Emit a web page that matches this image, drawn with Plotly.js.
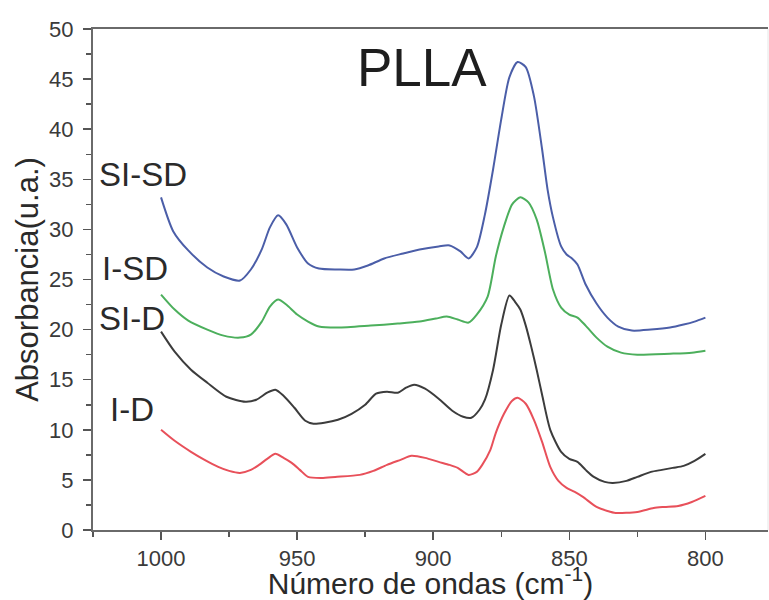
<!DOCTYPE html>
<html>
<head>
<meta charset="utf-8">
<script src="https://cdn.plot.ly/plotly-3.0.1.min.js"></script>
<style>
html,body{margin:0;padding:0;background:#fff;overflow:hidden;}
#chart{width:769px;height:600px;}
</style>
</head>
<body>
<div id="chart"></div>
<script>
// SI-SD (blue)
const xSISD = [1000,995.5,990,983,977,971,967,963,960,957,954,950,946,942,935,929,924,918,911,905,898,894,890,887,884,881,878,875,872,869,866,863,860,858,856,853,851,849,847,844,840,836,832,827,820,813,808,804,800];
const ySISD = [33.2,29.8,27.9,26.2,25.3,24.9,26.0,28.0,30.2,31.4,30.5,28.2,26.6,26.1,26.0,26.0,26.4,27.1,27.6,28.0,28.3,28.4,27.8,27.1,28.2,31.5,36.0,41.0,45.2,46.7,46.2,43.3,38.0,34.0,31.2,28.3,27.5,27.1,26.5,24.5,22.6,21.2,20.3,19.9,20.0,20.2,20.5,20.8,21.2];

// I-SD (green)
const xISD = [1000,995,990,983,977,971,967,963,960,957,954,950,946,942,935,923,913,905,899,895,891,887,884,880,877,874,871,868,865,862,859,856,853,850,847,844,840,836,831,825,813,805,800];
const yISD = [23.5,22.0,20.9,20.0,19.4,19.2,19.5,20.8,22.3,23.0,22.5,21.5,20.8,20.3,20.2,20.4,20.6,20.8,21.1,21.3,21.0,20.7,21.5,23.3,27.3,30.3,32.5,33.2,32.7,31.0,27.8,24.0,22.2,21.5,21.2,20.4,19.2,18.3,17.7,17.5,17.6,17.7,17.9];

// SI-D (black)
const xSID = [1000,995,989,983,976,969,965,961,958,955,951,947,944,940,935,930,925,921,917,913,910,907,903,898,893,889,886,883,881,878,875,872,870,868,866,864,862,860,857,853,850,847,844,841,837,834,829,825,820,816,812,808,804,800];
const ySID = [19.8,17.8,16.0,14.7,13.3,12.8,13.0,13.7,14.0,13.4,12.2,10.9,10.6,10.7,11.0,11.6,12.5,13.6,13.8,13.7,14.2,14.5,14.1,13.1,11.9,11.3,11.2,12.0,13.0,16.0,20.5,23.4,22.8,22.0,20.4,18.3,16.0,13.5,10.0,7.8,7.1,6.8,6.0,5.3,4.8,4.7,4.9,5.3,5.8,6.0,6.2,6.4,6.9,7.6];

// I-D (red)
const xID = [1000,995,989,984,979,975,971,967,964,961,958,955,952,949,946,941,936,927,922,917,912,908,903,898,894,891,887,884,882,879,877,874,871,869,866,863,860,857,854,851,848,845,840,836,833,825,819,815,810,805,800];
const yID = [10.0,8.9,7.8,7.0,6.3,5.9,5.7,6.0,6.5,7.1,7.6,7.2,6.7,6.0,5.3,5.2,5.3,5.5,5.9,6.5,7.0,7.4,7.2,6.8,6.5,6.2,5.5,5.8,6.5,8.0,9.7,11.6,12.9,13.2,12.6,11.0,8.8,6.3,4.9,4.2,3.8,3.3,2.3,1.9,1.7,1.8,2.2,2.3,2.4,2.8,3.4];

const xTicks = [1000,950,900,850,800];
const xTickText = ['1000','950','900','850','800'];
const seriesLabels = ['SI-SD','I-SD','SI-D','I-D'];
const chartTitle = 'PLLA';

const FONT = 'Liberation Sans, Arial, Helvetica, sans-serif';
const mk = (x,y,c,n)=>({x:x,y:y,name:n,type:'scatter',mode:'lines',
  line:{color:c,width:2,shape:'spline',smoothing:0.7},hoverinfo:'skip'});

const data = [
  mk(xSISD,ySISD,'#4b5ea8',seriesLabels[0]),
  mk(xISD,yISD,'#4caf5c',seriesLabels[1]),
  mk(xSID,ySID,'#3c3c3c',seriesLabels[2]),
  mk(xID,yID,'#e8505a',seriesLabels[3])
];

const layout = {
  width:769, height:600,
  margin:{l:93,r:1,t:29,b:70},
  paper_bgcolor:'#fff', plot_bgcolor:'#fff',
  showlegend:false,
  font:{family:FONT,color:'#333'},
  xaxis:{
    range:[1025,777], tickvals:xTicks, ticktext:xTickText,
    ticks:'outside', ticklen:8, tickwidth:1.5, tickcolor:'#555',
    showline:true, linecolor:'#6a6a6a', linewidth:2, mirror:true,
    showgrid:false, zeroline:false,
    tickfont:{size:22,color:'#3a3a3a',family:FONT},
    minor:{tick0:0,dtick:25,ticks:'outside',ticklen:5,tickwidth:1.5,tickcolor:'#555',showgrid:false},
    title:{text:'Número de ondas (cm<sup>-1</sup>)',font:{size:30,color:'#2a2a2a',family:FONT},standoff:6}
  },
  yaxis:{
    range:[0,50], tick0:0, dtick:5,
    ticks:'outside', ticklen:8, tickwidth:1.5, tickcolor:'#555',
    showline:true, linecolor:'#6a6a6a', linewidth:2,
    showgrid:false, zeroline:false, ticklabelstandoff:5,
    tickfont:{size:22,color:'#3a3a3a',family:FONT},
    minor:{tick0:0,dtick:2.5,ticks:'outside',ticklen:5,tickwidth:1.5,tickcolor:'#555',showgrid:false},
    title:{text:'Absorbancia(u.a.)',font:{size:31,color:'#2a2a2a',family:FONT},standoff:1}
  },
  shapes:[
    {type:'line',xref:'paper',yref:'paper',x0:1,x1:1,y0:0,y1:1,line:{color:'#e6e6e6',width:1}}
  ],
  annotations:[
    {text:chartTitle,xref:'x',yref:'y',x:904,y:46.2,xanchor:'center',yanchor:'middle',showarrow:false,font:{size:53,color:'#1e1e1e',family:FONT}},
    {text:seriesLabels[0],xref:'x',yref:'y',x:1023.5,y:35.5,xanchor:'left',yanchor:'middle',showarrow:false,font:{size:33,color:'#2a2a2a',family:FONT}},
    {text:seriesLabels[1],xref:'x',yref:'y',x:1022.4,y:26.1,xanchor:'left',yanchor:'middle',showarrow:false,font:{size:33,color:'#2a2a2a',family:FONT}},
    {text:seriesLabels[2],xref:'x',yref:'y',x:1023.5,y:21.1,xanchor:'left',yanchor:'middle',showarrow:false,font:{size:33,color:'#2a2a2a',family:FONT}},
    {text:seriesLabels[3],xref:'x',yref:'y',x:1019.5,y:12.0,xanchor:'left',yanchor:'middle',showarrow:false,font:{size:33,color:'#2a2a2a',family:FONT}}
  ]
};

Plotly.newPlot('chart',data,layout,{displayModeBar:false,staticPlot:true});
</script>
</body>
</html>
